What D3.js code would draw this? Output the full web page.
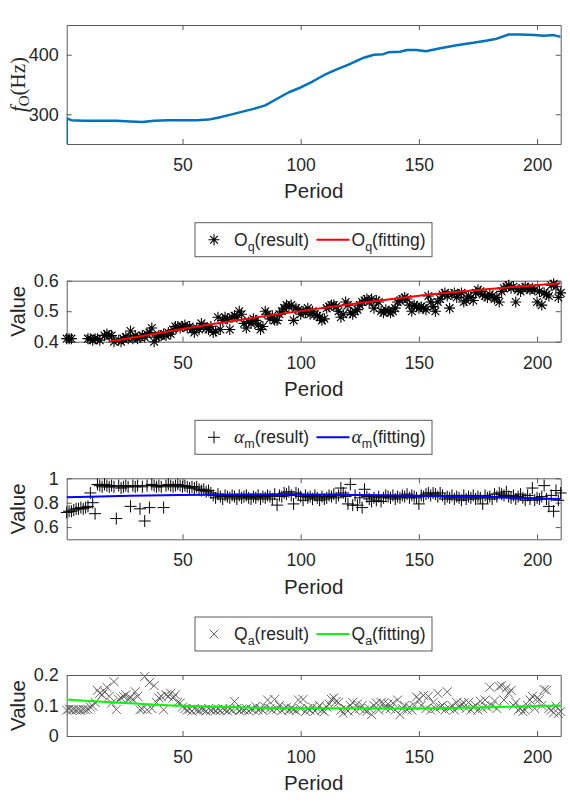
<!DOCTYPE html>
<html>
<head>
<meta charset="utf-8">
<script src="https://cdn.jsdelivr.net/npm/d3@7"></script>
<style>
  body { margin: 0; background: #fff; }
  text { font-family: "Liberation Sans", Arial, sans-serif; fill: #262626; }
</style>
</head>
<body>
<svg id="chart" width="570" height="806"></svg>
<script>
var width = 570,
    height = 806;

// f0 contour, read at a few periods
var f0Period = [1, 1, 3, 8, 15, 22, 28, 33, 38, 44, 50, 56, 61, 65, 70, 75, 80, 85, 90, 95,
    100, 105, 110, 115, 120, 126, 131, 135, 137, 142, 145, 149, 153, 159, 166, 173, 179, 183,
    188, 193, 199, 203, 207, 210];
var f0Value = [0, 293, 290, 289, 289, 289, 288, 287, 289, 290, 290, 290, 291, 294, 299, 304,
    309, 315, 326, 337, 345, 355, 366, 375, 383, 394, 400, 401, 404, 405, 408, 408, 406, 411,
    416, 420, 424, 427, 434, 434, 433, 432, 433, 430];

// one value per period 1..210 (null = not visible in the axes)
var oqResult = [
    0.41, 0.41, 0.41, null, null, null, null, null, null, 0.41,
    0.41, 0.405, 0.41, 0.41, 0.405, null, 0.42, 0.425, 0.42, 0.42,
    0.40, null, 0.405, 0.40, 0.41, 0.415, 0.41, 0.435, 0.41, 0.42,
    0.41, 0.415, 0.42, 0.415, 0.425, 0.43, 0.445, 0.40, 0.415, 0.42,
    0.42, 0.425, 0.42, 0.43, 0.425, 0.44, 0.45, 0.45, 0.445, 0.45,
    0.455, 0.445, 0.45, 0.44, 0.43, 0.445, 0.44, 0.46, 0.45, 0.445,
    0.44, 0.45, 0.43, 0.435, 0.48, 0.44, 0.47, 0.48, 0.475, 0.44,
    0.48, 0.485, 0.48, 0.50, 0.49, 0.46, 0.445, 0.465, 0.46, 0.475,
    0.47, 0.455, 0.44, 0.45, 0.50, 0.49, 0.475, 0.485, 0.47, 0.47,
    0.49, 0.50, 0.51, 0.52, 0.515, 0.52, 0.47, 0.51, 0.505, 0.49,
    0.50, 0.495, 0.51, 0.49, 0.50, 0.49, 0.485, 0.48, 0.47, 0.475,
    0.51, 0.515, 0.52, 0.52, 0.515, 0.50, 0.48, 0.49, 0.53, 0.52,
    0.495, 0.49, 0.50, 0.505, 0.52, 0.53, 0.535, 0.54, 0.53, 0.54,
    0.51, 0.535, 0.53, 0.50, 0.495, 0.505, 0.50, 0.495, 0.50, 0.51,
    0.53, 0.535, 0.54, 0.545, 0.54, 0.52, 0.50, 0.52, 0.515, 0.51,
    0.515, 0.51, 0.505, 0.55, 0.53, 0.515, 0.50, 0.53, 0.54, 0.555,
    0.56, 0.55, 0.51, 0.555, 0.56, 0.545, 0.555, 0.56, 0.53, 0.535,
    0.55, 0.545, 0.535, 0.56, 0.57, 0.565, 0.555, 0.55, 0.545, 0.555,
    0.55, 0.54, 0.545, 0.53, 0.565, 0.575, 0.58, 0.585, 0.575, 0.58,
    0.53, 0.57, 0.565, 0.575, 0.58, 0.575, 0.57, 0.575, 0.57, 0.53,
    0.565, 0.52, 0.56, 0.555, 0.55, 0.585, 0.59, 0.58, 0.545, 0.56
];
var oqFitPeriod = [19, 50, 105, 150, 210];
var oqFitValue = [0.400, 0.442, 0.506, 0.551, 0.592];

var alphaResult = [
    0.72, 0.73, 0.73, 0.74, 0.75, 0.75, 0.76, 0.75, 0.76, 0.77,
    0.88, 0.80, 0.71, 0.95, 0.94, 0.93, 0.95, 0.94, 0.93, 0.94,
    0.93, 0.67, 0.94, 0.92, 0.93, 0.94, 0.93, 0.77, 0.94, 0.93,
    0.94, 0.75, 0.93, 0.65, 0.94, 0.76, 0.95, 0.94, 0.93, 0.94,
    0.93, 0.76, 0.94, 0.95, 0.94, 0.93, 0.94, 0.95, 0.94, 0.93,
    0.94, 0.93, 0.92, 0.93, 0.92, 0.93, 0.91, 0.90, 0.91, 0.89,
    0.90, 0.88, 0.86, 0.84, 0.87, 0.85, 0.83, 0.86, 0.85, 0.84,
    0.86, 0.85, 0.83, 0.86, 0.84, 0.85, 0.86, 0.84, 0.83, 0.85,
    0.84, 0.86, 0.83, 0.85, 0.84, 0.86, 0.85, 0.83, 0.87, 0.78,
    0.86, 0.85, 0.88, 0.87, 0.89, 0.86, 0.79, 0.88, 0.87, 0.85,
    0.82, 0.86, 0.84, 0.85, 0.83, 0.86, 0.84, 0.82, 0.85, 0.83,
    0.84, 0.86, 0.85, 0.87, 0.84, 0.86, 0.92, 0.88, 0.85, 0.79,
    0.95, 0.78, 0.86, 0.78, 0.84, 0.76, 0.91, 0.85, 0.83, 0.81,
    0.84, 0.82, 0.85, 0.81, 0.84, 0.86, 0.85, 0.84, 0.86, 0.83,
    0.85, 0.84, 0.86, 0.85, 0.87, 0.84, 0.86, 0.85, 0.84, 0.79,
    0.86, 0.85, 0.87, 0.88, 0.86, 0.88, 0.87, 0.85, 0.88, 0.86,
    0.83, 0.85, 0.84, 0.86, 0.83, 0.85, 0.84, 0.82, 0.86, 0.83,
    0.85, 0.84, 0.86, 0.83, 0.85, 0.84, 0.79, 0.86, 0.84, 0.85,
    0.83, 0.87, 0.85, 0.88, 0.87, 0.86, 0.89, 0.85, 0.84, 0.86,
    0.83, 0.85, 0.87, 0.84, 0.82, 0.86, 0.83, 0.92, 0.82, 0.84,
    0.83, 0.85, 0.94, 0.83, 0.77, 0.86, 0.73, 0.90, 0.82, 0.88
];
var alphaFitPeriod = [1, 60, 100, 140, 180, 210];
var alphaFitValue = [0.845, 0.866, 0.868, 0.860, 0.846, 0.830];

var qaResult = [
    0.085, 0.088, 0.085, 0.087, 0.085, 0.086, 0.084, 0.087, 0.086, 0.088,
    0.095, 0.098, 0.11, 0.15, 0.14, 0.135, 0.145, 0.16, 0.13, 0.108,
    0.178, 0.087, 0.12, 0.125, 0.13, 0.135, 0.12, 0.125, 0.12, 0.145,
    0.13, 0.086, 0.088, 0.195, 0.086, 0.175, 0.09, 0.165, 0.11, 0.125,
    0.13, 0.086, 0.135, 0.13, 0.14, 0.125, 0.135, 0.11, 0.108, 0.095,
    0.09, 0.085, 0.088, 0.082, 0.09, 0.085, 0.083, 0.088, 0.086, 0.082,
    0.09, 0.085, 0.087, 0.083, 0.088, 0.084, 0.09, 0.086, 0.082, 0.088,
    0.085, 0.113, 0.09, 0.083, 0.087, 0.085, 0.09, 0.082, 0.088, 0.086,
    0.097, 0.085, 0.09, 0.083, 0.095, 0.118, 0.09, 0.085, 0.12, 0.088,
    0.10, 0.083, 0.09, 0.095, 0.085, 0.09, 0.087, 0.083, 0.118, 0.09,
    0.12, 0.08, 0.09, 0.085, 0.095, 0.082, 0.09, 0.10, 0.085, 0.08,
    0.095, 0.105, 0.12, 0.125, 0.113, 0.11, 0.085, 0.075, 0.09, 0.082,
    0.10, 0.11, 0.085, 0.105, 0.09, 0.10, 0.085, 0.08, 0.09, 0.07,
    0.10, 0.108, 0.085, 0.11, 0.107, 0.09, 0.105, 0.09, 0.108, 0.085,
    0.118, 0.07, 0.09, 0.10, 0.085, 0.095, 0.085, 0.10, 0.128, 0.12,
    0.10, 0.133, 0.09, 0.13, 0.085, 0.11, 0.09, 0.14, 0.095, 0.10,
    0.085, 0.145, 0.09, 0.10, 0.085, 0.11, 0.095, 0.105, 0.108, 0.09,
    0.11, 0.085, 0.095, 0.10, 0.085, 0.114, 0.09, 0.118, 0.095, 0.16,
    0.10, 0.115, 0.09, 0.162, 0.165, 0.118, 0.157, 0.14, 0.15, 0.10,
    0.11, 0.085, 0.09, 0.08, 0.085, 0.10, 0.118, 0.13, 0.09, 0.124,
    0.12, 0.10, 0.152, 0.15, 0.09, 0.085, 0.076, 0.098, 0.074, 0.08
];
var qaFitPeriod = [1, 50, 100, 140, 180, 210];
var qaFitValue = [0.120, 0.099, 0.091, 0.090, 0.094, 0.100];

var xTicks = [50, 100, 150, 200];

var svg = d3.select("#chart");

var x = d3.scaleLinear()
    .domain([1, 210])
    .range([66.7, 560.7]);

var star = function(s) {
  var k = s * 0.7071;
  return "M0," + (-s) + "V" + s + "M" + (-s) + ",0H" + s +
    "M" + (-k) + "," + (-k) + "L" + k + "," + k + "M" + (-k) + "," + k + "L" + k + "," + (-k);
};
var plus = function(s) { return "M0," + (-s) + "V" + s + "M" + (-s) + ",0H" + s; };
var cross = function(s) { return "M" + (-s) + "," + (-s) + "L" + s + "," + s + "M" + (-s) + "," + s + "L" + s + "," + (-s); };

function drawAxes(id, top, bottom, yDomain, yTicks) {
  var y = d3.scaleLinear().domain(yDomain).range([bottom, top]);
  var g = svg.append("g").attr("class", "axes");

  g.append("clipPath").attr("id", id)
    .append("rect")
      .attr("x", x.range()[0]).attr("y", top)
      .attr("width", x.range()[1] - x.range()[0])
      .attr("height", bottom - top);

  function style(sel, fontSize) {
    sel.attr("font-family", null).attr("font-size", fontSize).attr("color", "#5a5a5a");
    sel.selectAll("text").style("fill", "#262626");
    sel.select(".domain").attr("stroke-width", 1);
  }

  g.append("g").attr("transform", "translate(0," + bottom + ")")
    .call(d3.axisBottom(x).tickValues(xTicks).tickSizeInner(-5).tickSizeOuter(0).tickPadding(14.6))
    .call(style, 17.5);
  g.append("g").attr("transform", "translate(0," + top + ")")
    .call(d3.axisTop(x).tickValues(xTicks).tickSizeInner(-5).tickSizeOuter(0).tickFormat(""))
    .call(style, 17.5);
  g.append("g").attr("transform", "translate(" + x.range()[0] + ",0)")
    .call(d3.axisLeft(y).tickValues(yTicks).tickSizeInner(-5).tickSizeOuter(0).tickPadding(8)
      .tickFormat(function(d) { return d; }))
    .call(style, 18);
  g.append("g").attr("transform", "translate(" + x.range()[1] + ",0)")
    .call(d3.axisRight(y).tickValues(yTicks).tickSizeInner(-5).tickSizeOuter(0).tickFormat(""))
    .call(style, 17.5);

  g.append("text")
    .attr("x", (x.range()[0] + x.range()[1]) / 2)
    .attr("y", bottom + 54.3)
    .attr("text-anchor", "middle")
    .attr("font-size", 20.5)
    .text("Period");

  return y;
}

function drawYLabel(top, bottom) {
  svg.append("text")
    .attr("transform", "translate(25," + ((top + bottom) / 2) + ") rotate(-90)")
    .attr("text-anchor", "middle")
    .attr("font-size", 20.5)
    .text("Value");
}

function drawScatter(y, values, shape, size, color, width) {
  var pts = values.map(function(v, i) { return {p: i + 1, v: v}; })
    .filter(function(d) {
      return d.v !== null && d.v >= y.domain()[0] && d.v <= y.domain()[1];
    });
  svg.append("g")
    .selectAll("path")
    .data(pts)
    .enter()
    .append("path")
      .attr("transform", function(d) { return "translate(" + x(d.p) + "," + y(d.v) + ")"; })
      .attr("d", shape(size))
      .attr("fill", "none")
      .attr("stroke", color)
      .attr("stroke-width", width);
}

function drawLine(y, periods, values, color, width, clipId, curve) {
  var line = d3.line()
    .x(function(d) { return x(d[0]); })
    .y(function(d) { return y(d[1]); })
    .curve(curve || d3.curveLinear);
  svg.append("path")
    .datum(periods.map(function(p, i) { return [p, values[i]]; }))
    .attr("clip-path", "url(#" + clipId + ")")
    .attr("d", line)
    .attr("fill", "none")
    .attr("stroke", color)
    .attr("stroke-width", width)
    .attr("stroke-linejoin", "round");
}

function drawLegend(top, shape, size, markColor, markWidth, first, firstSerif, sub, lineColor) {
  var left = 195, w = 237, h = 34, cy = top + h / 2;
  var g = svg.append("g");
  g.append("rect")
    .attr("x", left).attr("y", top).attr("width", w).attr("height", h)
    .attr("fill", "#fff").attr("stroke", "#5a5a5a").attr("stroke-width", 1);
  g.append("path")
    .attr("transform", "translate(" + (left + 19) + "," + cy + ")")
    .attr("d", shape(size))
    .attr("fill", "none").attr("stroke", markColor).attr("stroke-width", markWidth);

  function label(x0, rest) {
    var t = g.append("text").attr("x", x0).attr("y", cy + 6).attr("font-size", 17.5);
    var head = t.append("tspan").attr("font-size", firstSerif ? 19.5 : 17.5).text(first);
    if (firstSerif) head.style("font-family", "'Liberation Serif', serif").style("font-style", "italic");
    t.append("tspan").attr("dy", 5).attr("font-size", 12.5).text(sub);
    t.append("tspan").attr("dy", -5).text(rest);
  }
  label(left + 39, "(result)");
  g.append("line")
    .attr("x1", left + 121.5).attr("x2", left + 154.5)
    .attr("y1", cy).attr("y2", cy)
    .attr("stroke", lineColor).attr("stroke-width", 2);
  label(left + 156.5, "(fitting)");
}

// panel 1: f0
var y1 = drawAxes("clip1", 25, 144, [250, 450], [300, 400]);
drawLine(y1, f0Period, f0Value, "#0072bd", 2.5, "clip1");
var f0Label = svg.append("text")
    .attr("transform", "translate(25," + ((25 + 144) / 2) + ") rotate(-90)")
    .attr("text-anchor", "middle")
    .style("font-family", "'Liberation Serif', serif")
    .attr("font-size", 21);
f0Label.append("tspan").style("font-style", "italic").text("f");
f0Label.append("tspan").attr("dy", 4).attr("font-size", 15).text("O");
f0Label.append("tspan").attr("dy", -4).text("(Hz)");

// panel 2: Oq
var y2 = drawAxes("clip2", 280.7, 341.7, [0.4, 0.6], [0.4, 0.5, 0.6]);
drawYLabel(280.7, 341.7);
drawScatter(y2, oqResult, star, 5.5, "#000", 1.1);
drawLine(y2, oqFitPeriod, oqFitValue, "#ff0000", 2, "clip2", d3.curveMonotoneX);
drawLegend(280.7 - 58, star, 5.5, "#000", 1.1, "O", false, "q", "#ff0000");

// panel 3: alpha_m
var y3 = drawAxes("clip3", 478.3, 539.3, [0.5, 1], [0.6, 0.8, 1]);
drawYLabel(478.3, 539.3);
drawScatter(y3, alphaResult, plus, 6, "#000", 1);
drawLine(y3, alphaFitPeriod, alphaFitValue, "#0000ff", 2, "clip3", d3.curveMonotoneX);
drawLegend(478.3 - 58, plus, 6, "#000", 1, "\u03b1", true, "m", "#0000ff");

// panel 4: Qa
var y4 = drawAxes("clip4", 675, 736, [0, 0.2], [0, 0.1, 0.2]);
drawYLabel(675, 736);
drawScatter(y4, qaResult, cross, 4.5, "#555", 0.9);
drawLine(y4, qaFitPeriod, qaFitValue, "#00ff00", 2, "clip4", d3.curveMonotoneX);
drawLegend(675 - 58, cross, 4.5, "#555", 0.9, "Q", false, "a", "#00ff00");
</script>
</body>
</html>
